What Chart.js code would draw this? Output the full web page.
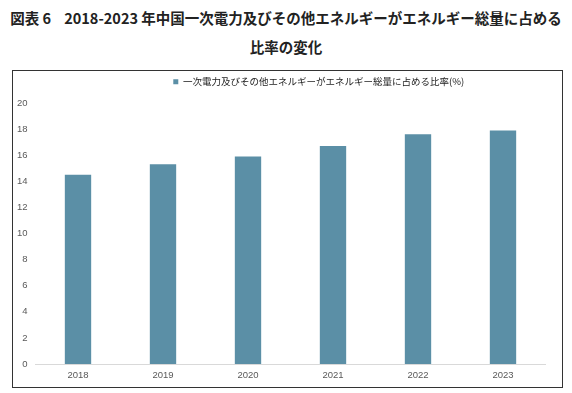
<!DOCTYPE html>
<html>
<head>
<meta charset="utf-8">
<script src="https://cdn.jsdelivr.net/npm/chart.js@4"></script>
<style>
  html, body { margin: 0; padding: 0; background: #fff; }
  body { width: 572px; height: 393px; position: relative; overflow: hidden; }
  .title {
    position: absolute; left: 0; width: 572px; text-align: center;
    font-family: "Noto Sans CJK JP", sans-serif; font-weight: bold;
    font-size: 14.5px; color: #222; white-space: nowrap;
  }
  #frame {
    position: absolute; left: 12px; top: 70px; width: 549px; height: 316px;
    border: 1px solid #333;
  }
  #c { position: absolute; left: 0; top: 0; }
</style>
</head>
<body>
<div class="title" style="top:7px">図表 6&nbsp;&nbsp;&nbsp;&nbsp;2018-2023 年中国一次電力及びその他エネルギーがエネルギー総量に占める</div>
<div class="title" style="top:36px">比率の変化</div>
<div id="frame"></div>
<canvas id="c" width="572" height="393"></canvas>
<script>
// データ
const years = ['2018', '2019', '2020', '2021', '2022', '2023'];
const shareValues = [14.5, 15.3, 15.9, 16.7, 17.6, 17.9];
const seriesName = '一次電力及びその他エネルギーがエネルギー総量に占める比率(%)';

// 凡例の下に余白を足して、少し右へずらす
const legendTweak = {
  id: 'legendTweak',
  beforeInit(chart) {
    const fit = chart.legend.fit;
    chart.legend.fit = function () {
      fit.bind(chart.legend)();
      this.height = 33;
    };
  },
  afterLayout(chart) {
    chart.legend.left += 40;
    chart.legend.right += 40;
  }
};

new Chart(document.getElementById('c'), {
  type: 'bar',
  data: {
    labels: years,
    datasets: [{
      label: seriesName,
      data: shareValues,
      backgroundColor: '#5b8fa6',
      borderWidth: 0,
      categoryPercentage: 1,
      barPercentage: 0.31
    }]
  },
  options: {
    responsive: false,
    animation: false,
    layout: { padding: { top: 70, left: 12, right: 26.5, bottom: 13 } },
    plugins: {
      legend: {
        position: 'top',
        labels: {
          boxWidth: 5,
          boxHeight: 5,
          padding: 7,
          color: '#222',
          font: { family: '"Noto Sans CJK JP", sans-serif', size: 9.5 }
        }
      },
      tooltip: { enabled: false }
    },
    scales: {
      x: {
        grid: { display: false, drawTicks: false },
        border: { display: true, color: '#d9d9d9', width: 1 },
        ticks: {
          padding: 6,
          color: '#595959',
          font: { family: '"Liberation Sans", sans-serif', size: 9.5 }
        },
        afterFit(scale) { scale.height = 16; }
      },
      y: {
        min: 0,
        max: 20,
        grid: { display: false, drawTicks: false },
        border: { display: false },
        ticks: {
          stepSize: 2,
          padding: 8,
          color: '#595959',
          font: { family: '"Liberation Sans", sans-serif', size: 9.5 }
        },
        afterFit(scale) { scale.width = 23.5; }
      }
    }
  },
  plugins: [legendTweak]
});
</script>
</body>
</html>
